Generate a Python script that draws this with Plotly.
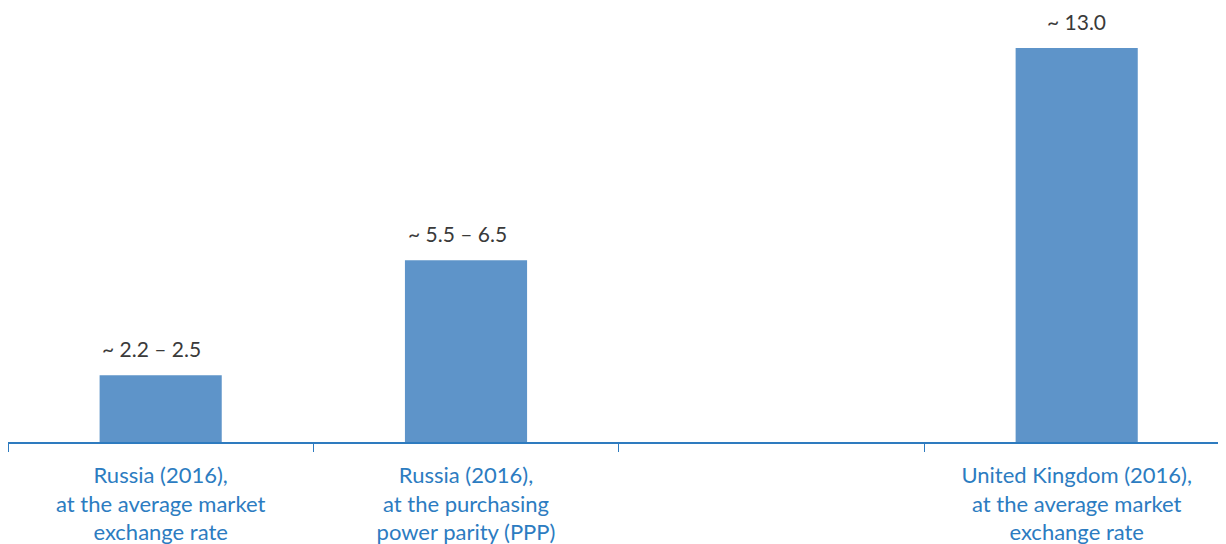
import plotly.graph_objects as go

categories = [
    "Russia (2016),<br>at the average market<br>exchange rate",
    "Russia (2016),<br>at the purchasing<br>power parity (PPP)",
    " ",
    "United Kingdom (2016),<br>at the average market<br>exchange rate",
]
values = [2.2, 6.0, None, 13.0]
value_labels = ["~ 2.2 – 2.5", "~ 5.5 – 6.5", "", "~ 13.0"]

BAR = "#5E94C9"
AXIS = "#2E7BBF"
LABEL = "#2C7CC1"

fig = go.Figure()
fig.add_trace(go.Bar(
    x=categories, y=values, marker=dict(color=BAR, line=dict(width=0)),
    width=0.4, hoverinfo="skip",
))

shifts = [-9, -9, 0, 0]
for c, v, t, s in zip(categories, values, value_labels, shifts):
    if v is None:
        continue
    fig.add_annotation(
        x=c, y=v, text=t, showarrow=False, yanchor="bottom", yshift=12, xshift=s,
        font=dict(family="Lato, Open Sans, sans-serif", size=21, color="#3A3A3A"),
    )

fig.update_layout(
    width=1218, height=536,
    margin=dict(l=0, r=0, t=0, b=102, pad=0),
    paper_bgcolor="white", plot_bgcolor="white",
    showlegend=False,
    xaxis=dict(
        type="category", range=[-0.5, 3.489], tickson="boundaries",
        showline=True, linecolor=AXIS, linewidth=1.5,
        ticks="outside", ticklen=8, tickwidth=1.2, tickcolor=AXIS,
        ticklabelstandoff=13,
        showgrid=False, zeroline=False, automargin=False,
        tickfont=dict(family="Lato, Open Sans, sans-serif", size=22, color=LABEL),
    ),
    yaxis=dict(
        range=[0, 14.32], visible=False, showgrid=False, zeroline=False,
        automargin=False,
    ),
)

fig.write_html("out.html")
